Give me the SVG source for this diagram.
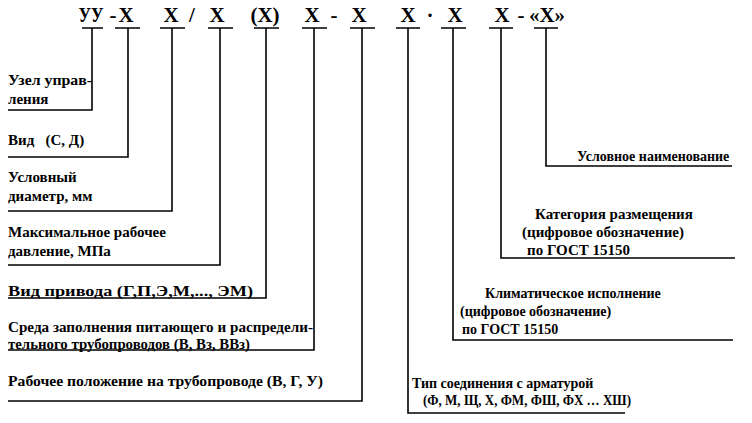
<svg xmlns="http://www.w3.org/2000/svg" width="752" height="423" viewBox="0 0 752 423">
<style>
.t{font-family:"Liberation Serif","Times New Roman",serif;font-size:15px;font-weight:bold;fill:#000}
.s{font-size:14px}
.h{font-family:"Liberation Serif","Times New Roman",serif;font-size:21px;font-weight:bold;text-anchor:middle;fill:#000}
.c{fill:none;stroke:#000;stroke-width:1.6}
</style>
<rect width="752" height="423" fill="#fff"/>
<g id="code">
<text class="h" x="91" y="22" textLength="25" lengthAdjust="spacingAndGlyphs">УУ</text>
<text class="h" x="113" y="22">-</text>
<text class="h" x="126" y="22">Х</text>
<text class="h" x="171" y="22">Х</text>
<text class="h" x="192" y="22">/</text>
<text class="h" x="217" y="22">Х</text>
<text class="h" x="265" y="22">(Х)</text>
<text class="h" x="312" y="22">Х</text>
<text class="h" x="334" y="22">-</text>
<text class="h" x="359" y="22">Х</text>
<text class="h" x="408" y="22">Х</text>
<text class="h" x="430" y="22">·</text>
<text class="h" x="455" y="22">Х</text>
<text class="h" x="502" y="22">Х</text>
<text class="h" x="521" y="22">-</text>
<text class="h" x="547" y="22">«Х»</text>
</g>
<g id="connectors">
<path class="c" d="M82,28H103M92,28V110H8"/>
<path class="c" d="M115,28H140M128,28V157H8"/>
<path class="c" d="M160,28H185M172,28V211H8"/>
<path class="c" d="M208,28H233M220,28V265H8"/>
<path class="c" d="M254,28H279M266,28V298H8"/>
<path class="c" d="M302,28H327M314,28V350H8"/>
<path class="c" d="M350,28H375M362,28V401H8"/>
<path class="c" d="M396,28H420M408,28V413H625"/>
<path class="c" d="M441,28H466M453,28V340H733"/>
<path class="c" d="M489,28H513M501,28V258H735"/>
<path class="c" d="M534,28H558M546,28V166H732"/>
</g>
<g id="node-uzel"><text class="t" x="8" y="85" textLength="84" lengthAdjust="spacingAndGlyphs">Узел управ-</text><text class="t" x="8" y="104">ления</text></g>
<g id="node-vid"><text class="t" x="8" y="145" xml:space="preserve">Вид   (С, Д)</text></g>
<g id="node-du"><text class="t" x="8" y="182">Условный</text><text class="t" x="8" y="201">диаметр, мм</text></g>
<g id="node-p"><text class="t" x="8" y="237">Максимальное рабочее</text><text class="t" x="8" y="256">давление, МПа</text></g>
<g id="node-privod"><text class="t" x="8" y="296" textLength="245" lengthAdjust="spacingAndGlyphs">Вид привода (Г,П,Э,М,..., ЭМ)</text></g>
<g id="node-sreda"><text class="t" x="8" y="332" textLength="305" lengthAdjust="spacingAndGlyphs">Среда заполнения питающего и распредели-</text><text class="t" x="8" y="349" textLength="242" lengthAdjust="spacingAndGlyphs">тельного трубопроводов (В, Вз, ВВз)</text></g>
<g id="node-polozh"><text class="t" x="8" y="386" textLength="315" lengthAdjust="spacingAndGlyphs">Рабочее положение на трубопроводе (В, Г, У)</text></g>
<g id="node-naim"><text class="t s" x="577" y="161">Условное наименование</text></g>
<g id="node-kat"><text class="t" x="535" y="219">Категория размещения</text><text class="t" x="522" y="237">(цифровое обозначение)</text><text class="t" x="527" y="255">по ГОСТ 15150</text></g>
<g id="node-klim"><text class="t s" x="485" y="298">Климатическое исполнение</text><text class="t s" x="460" y="316">(цифровое обозначение)</text><text class="t s" x="462" y="334">по ГОСТ 15150</text></g>
<g id="node-tip"><text class="t s" x="412" y="388">Тип соединения с арматурой</text><text class="t s" x="423" y="405" textLength="208" lengthAdjust="spacingAndGlyphs">(Ф, М, Щ, Х, ФМ, ФШ, ФХ … ХШ)</text></g>
</svg>
